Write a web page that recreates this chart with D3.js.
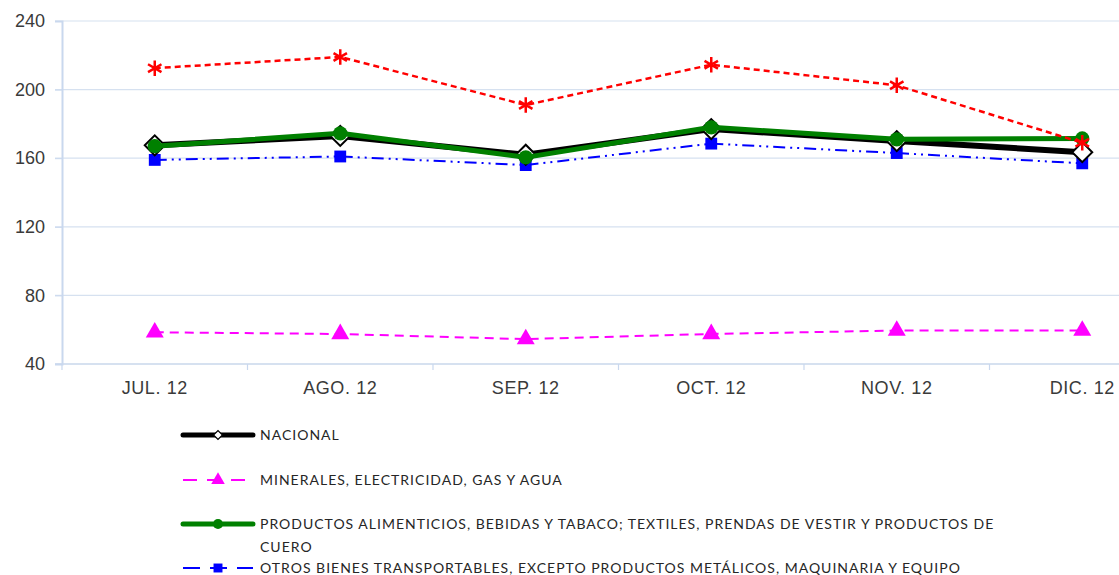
<!DOCTYPE html>
<html>
<head>
<meta charset="utf-8">
<script src="https://cdn.jsdelivr.net/npm/d3@7"></script>
<style>
  body { margin: 0; background: #fff; }
  svg { display: block; }
</style>
</head>
<body>
<div id="chart"></div>
<script>
// data
const months = ["JUL. 12", "AGO. 12", "SEP. 12", "OCT. 12", "NOV. 12", "DIC. 12"];
const yTicks = [40, 80, 120, 160, 200, 240];

const nacional = [167.5, 173, 162, 177, 170, 163.5];
const minerales = [58.5, 57.5, 54.5, 57.5, 59.5, 59.5];
const alimentos = [167, 174.5, 160.5, 178, 171, 171.5];
const otros = [159, 161, 156, 168.5, 163, 157];
const metalicos = [212.5, 219, 191, 214.5, 202.5, 169];

const seriesNames = [
  "NACIONAL",
  "MINERALES, ELECTRICIDAD, GAS Y AGUA",
  "PRODUCTOS ALIMENTICIOS, BEBIDAS Y TABACO; TEXTILES, PRENDAS DE VESTIR Y PRODUCTOS DE\nCUERO",
  "OTROS BIENES TRANSPORTABLES, EXCEPTO PRODUCTOS METÁLICOS, MAQUINARIA Y EQUIPO"
];

const width = 1119, height = 575;
const svg = d3.select("#chart").append("svg")
  .attr("width", width).attr("height", height);

const x = d3.scaleBand().domain(months).range([62, 1175]);
const y = d3.scaleLinear().domain([40, 240]).range([364, 21]);

// gridlines
svg.append("g").selectAll("line")
  .data(yTicks)
  .enter().append("line")
  .attr("x1", 55).attr("x2", width)
  .attr("y1", d => y(d)).attr("y2", d => y(d))
  .attr("stroke", "#d6e1f0").attr("stroke-width", d => d == 40 ? 2 : 1.2);

const axisFont = "Liberation Sans, Arial, sans-serif";
const yAxis = svg.append("g")
  .attr("transform", "translate(62,0)")
  .call(d3.axisLeft(y).tickValues(yTicks).tickSize(7).tickPadding(10));
yAxis.select(".domain").attr("stroke", "#c9d8ee").attr("stroke-width", 2);
yAxis.selectAll(".tick line").attr("stroke", "#c9d8ee");
yAxis.selectAll("text").attr("font-family", axisFont).attr("font-size", 18).attr("fill", "#3a3a3a");

const xAxis = svg.append("g")
  .attr("transform", "translate(0,364)")
  .call(d3.axisBottom(x).tickSize(0).tickPadding(17));
xAxis.select(".domain").remove();
xAxis.selectAll("text").attr("font-family", axisFont).attr("font-size", 18)
  .attr("letter-spacing", 0.6).attr("fill", "#3a3a3a");
// tick marks between categories
svg.append("g").selectAll("line")
  .data(months)
  .enter().append("line")
  .attr("x1", d => x(d)).attr("x2", d => x(d))
  .attr("y1", 364).attr("y2", 370)
  .attr("stroke", "#c9d8ee").attr("stroke-width", 1.2);

const cx = (d, i) => x(months[i]) + x.bandwidth() / 2;
const line = d3.line().x(cx).y(d => y(d));

function drawLine(vals, color, w, dash) {
  svg.append("path").datum(vals)
    .attr("d", line)
    .attr("fill", "none")
    .attr("stroke", color)
    .attr("stroke-width", w)
    .attr("stroke-dasharray", dash)
    .attr("stroke-linejoin", "round");
}

const sym = {
  diamond: d3.symbol().type(d3.symbolSquare).size(200),
  triangle: d3.symbol().type(d3.symbolTriangle).size(140),
  circle: d3.symbol().type(d3.symbolCircle).size(160),
  square: d3.symbol().type(d3.symbolSquare).size(140),
  star: d3.symbol().type(d3.symbolAsterisk).size(170)
};

function drawMarkers(vals, kind, fill, stroke, sw) {
  svg.append("g").selectAll("path")
    .data(vals)
    .enter().append("path")
    .attr("d", sym[kind])
    .attr("transform", (d, i) => `translate(${cx(d, i)},${y(d)})` + (kind == "diamond" ? " rotate(45)" : ""))
    .attr("fill", fill)
    .attr("stroke", stroke)
    .attr("stroke-width", sw);
}

// blue dash-dot-dot
drawLine(otros, "#0000ff", 2, "12,5,2,5,2,5");
drawMarkers(otros, "square", "#0000ff", "none", 0);

// magenta dashed
drawLine(minerales, "#ff00ff", 2, "9,6");
drawMarkers(minerales, "triangle", "#ff00ff", "none", 0);

// nacional
drawLine(nacional, "#000000", 6, null);
drawMarkers(nacional, "diamond", "#ffffff", "#000000", 2);

// green
drawLine(alimentos, "#008000", 5, null);
drawMarkers(alimentos, "circle", "#008000", "none", 0);

// red
drawLine(metalicos, "#ff0000", 2.5, "6,4");
drawMarkers(metalicos, "star", "none", "#ff0000", 2.5);

// legend
const legendRows = [
  { name: seriesNames[0], color: "#000", w: 5, dash: null, kind: d3.symbolSquare, rot: true, size: 40, fill: "#fff", stroke: "#000", y: 435 },
  { name: seriesNames[1], color: "#ff00ff", w: 2, dash: "14,10", kind: d3.symbolTriangle, size: 80, fill: "#ff00ff", stroke: "none", y: 480 },
  { name: seriesNames[2], color: "#008000", w: 5, dash: null, kind: d3.symbolCircle, size: 80, fill: "#008000", stroke: "none", y: 524 },
  { name: seriesNames[3], color: "#0000ff", w: 2, dash: "17,10", kind: d3.symbolSquare, size: 80, fill: "#0000ff", stroke: "none", y: 568 }
];

const lg = svg.append("g");
legendRows.forEach(r => {
  lg.append("line")
    .attr("x1", 183).attr("x2", 253)
    .attr("y1", r.y).attr("y2", r.y)
    .attr("stroke", r.color).attr("stroke-width", r.w)
    .attr("stroke-dasharray", r.dash)
    .attr("stroke-linecap", r.dash ? "butt" : "round");
  lg.append("path")
    .attr("d", d3.symbol().type(r.kind).size(r.size))
    .attr("transform", `translate(218,${r.y})` + (r.rot ? " rotate(45)" : ""))
    .attr("fill", r.fill).attr("stroke", r.stroke).attr("stroke-width", 1.2);
  const t = lg.append("text")
    .attr("x", 260).attr("y", r.y + 5)
    .attr("font-family", "Lato, Open Sans, sans-serif")
    .attr("font-size", 14)
    .attr("letter-spacing", 1)
    .attr("fill", "#262626");
  r.name.split("\n").forEach((s, i) => {
    t.append("tspan").attr("x", 260).attr("dy", i == 0 ? 0 : 23).text(s);
  });
});
</script>
</body>
</html>
